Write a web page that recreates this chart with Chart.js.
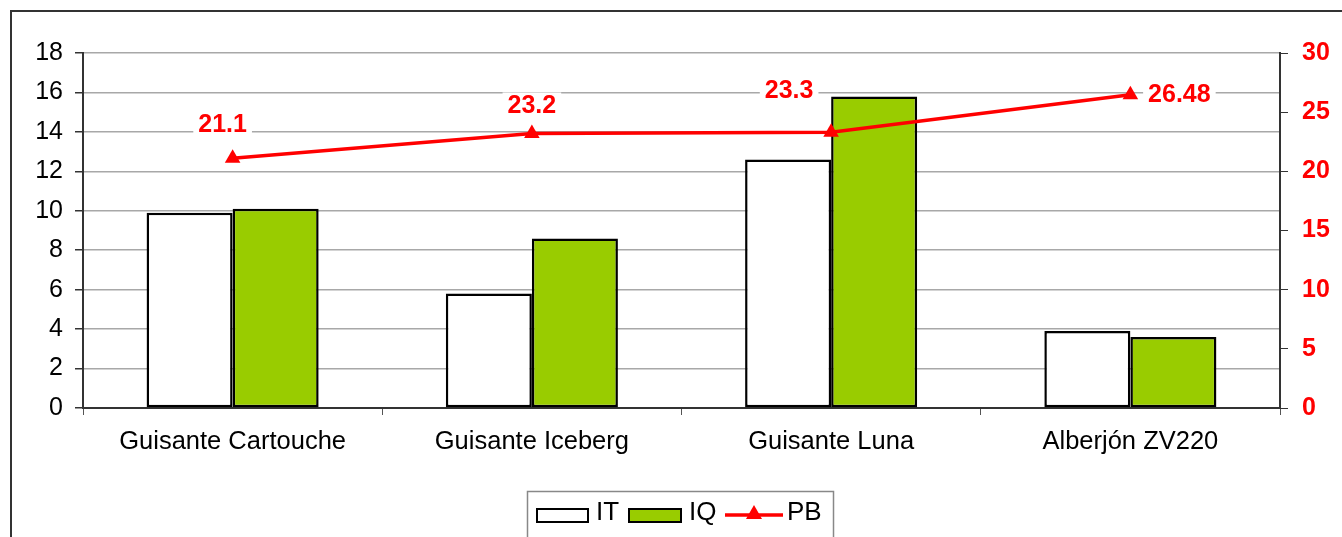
<!DOCTYPE html>
<html>
<head>
<meta charset="utf-8">
<script src="https://cdn.jsdelivr.net/npm/chart.js@4/dist/chart.umd.min.js"></script>
<style>
  html, body { margin: 0; padding: 0; background: #fff; overflow: hidden; }
  #wrap { width: 1342px; height: 537px; position: relative; }
</style>
</head>
<body>
<div id="wrap"><canvas id="chart"></canvas></div>
<script>
var categories = ["Guisante Cartouche", "Guisante Iceberg", "Guisante Luna", "Alberjón ZV220"];
var itValues = [9.9, 5.8, 12.6, 3.9];
var iqValues = [10.1, 8.6, 15.8, 3.6];
var pbValues = [21.1, 23.2, 23.3, 26.48];
var pbLabels = ["21.1", "23.2", "23.3", "26.48"];

var FONT = "'Liberation Sans', Arial, sans-serif";

// outer frame + legend box, drawn by hand
var framePlugin = {
    id: "frame",
    afterDraw: function (chart) {
        var ctx = chart.ctx;
        ctx.save();
        ctx.strokeStyle = "#333";
        ctx.lineWidth = 2;
        ctx.strokeRect(11, 11, 1400, 600);

        // legend
        ctx.strokeStyle = "#888";
        ctx.lineWidth = 1.5;
        ctx.strokeRect(527.5, 491.5, 306, 80);

        ctx.lineWidth = 2;
        ctx.strokeStyle = "#000";
        ctx.fillStyle = "#fff";
        ctx.fillRect(537, 509, 51, 13);
        ctx.strokeRect(537, 509, 51, 13);
        ctx.fillStyle = "#99cc00";
        ctx.fillRect(629, 509, 52, 13);
        ctx.strokeRect(629, 509, 52, 13);

        ctx.strokeStyle = "#ff0000";
        ctx.lineWidth = 3.5;
        ctx.beginPath();
        ctx.moveTo(725, 515);
        ctx.lineTo(783, 515);
        ctx.stroke();
        ctx.fillStyle = "#ff0000";
        ctx.beginPath();
        ctx.moveTo(754, 505);
        ctx.lineTo(762, 519);
        ctx.lineTo(746, 519);
        ctx.closePath();
        ctx.fill();

        ctx.fillStyle = "#000";
        ctx.font = "26px " + FONT;
        ctx.textBaseline = "middle";
        ctx.textAlign = "left";
        ctx.fillText("IT", 596, 513);
        ctx.fillText("IQ", 689, 513);
        ctx.fillText("PB", 787, 513);
        ctx.restore();
    }
};

// value labels for PB with white background
var labelOffsets = [[-10, -34], [0, -28], [-42, -42], [49, -1]];
var pbLabelPlugin = {
    id: "pbLabels",
    afterDatasetsDraw: function (chart) {
        var ctx = chart.ctx;
        var meta = chart.getDatasetMeta(2);
        ctx.save();
        ctx.font = "bold 25px " + FONT;
        ctx.textAlign = "center";
        ctx.textBaseline = "middle";
        meta.data.forEach(function (pt, i) {
            var x = pt.x + labelOffsets[i][0];
            var y = pt.y + labelOffsets[i][1];
            var w = ctx.measureText(pbLabels[i]).width;
            ctx.fillStyle = "#fff";
            ctx.fillRect(x - w / 2 - 5, y - 13, w + 10, 26);
            ctx.fillStyle = "#ff0000";
            ctx.fillText(pbLabels[i], x, y + 1);
        });
        ctx.restore();
    }
};

var ctx = document.getElementById("chart").getContext("2d");
var myChart = new Chart(ctx, {
    type: "bar",
    data: {
        labels: categories,
        datasets: [
            {
                label: "IT",
                data: itValues,
                backgroundColor: "#ffffff",
                borderColor: "#000000",
                borderWidth: 2.5,
                borderSkipped: false,
                yAxisID: "y",
                order: 2
            },
            {
                label: "IQ",
                data: iqValues,
                backgroundColor: "#99cc00",
                borderColor: "#000000",
                borderWidth: 2.5,
                borderSkipped: false,
                yAxisID: "y",
                order: 2
            },
            {
                type: "line",
                label: "PB",
                data: pbValues,
                borderColor: "#ff0000",
                backgroundColor: "#ff0000",
                borderWidth: 3.5,
                pointStyle: "triangle",
                pointRadius: 9,
                pointBorderWidth: 0,
                tension: 0,
                yAxisID: "y1",
                order: 0
            }
        ]
    },
    options: {
        responsive: true,
        maintainAspectRatio: false,
        animation: false,
        categoryPercentage: 0.575,
        barPercentage: 1,
        layout: {
            padding: { top: 53, bottom: 69, left: 0, right: 0 }
        },
        plugins: {
            legend: { display: false },
            tooltip: { enabled: false }
        },
        scales: {
            x: {
                grid: {
                    offset: true,
                    drawOnChartArea: false,
                    drawTicks: true,
                    tickLength: 7,
                    tickColor: "#555"
                },
                border: { display: true, color: "#333", width: 2 },
                ticks: {
                    color: "#000",
                    padding: 12,
                    font: { family: FONT, size: 25.5 }
                },
                afterFit: function (scale) { scale.height = 60; }
            },
            y: {
                position: "left",
                min: 0,
                max: 18,
                ticks: {
                    stepSize: 2,
                    color: "#000",
                    padding: 12,
                    font: { family: FONT, size: 25 }
                },
                grid: {
                    color: "#a8a8a8",
                    lineWidth: 1.5,
                    tickLength: 8,
                    tickColor: "#333"
                },
                border: { display: true, color: "#333", width: 2 },
                afterFit: function (scale) { scale.width = 83; }
            },
            y1: {
                position: "right",
                min: 0,
                max: 30,
                ticks: {
                    stepSize: 5,
                    color: "#ff0000",
                    padding: 14,
                    font: { family: FONT, size: 25, weight: "bold" }
                },
                grid: {
                    drawOnChartArea: false,
                    tickLength: 8,
                    tickColor: "#333"
                },
                border: { display: true, color: "#333", width: 2 },
                afterFit: function (scale) { scale.width = 62; }
            }
        }
    },
    plugins: [framePlugin, pbLabelPlugin]
});
</script>
</body>
</html>
